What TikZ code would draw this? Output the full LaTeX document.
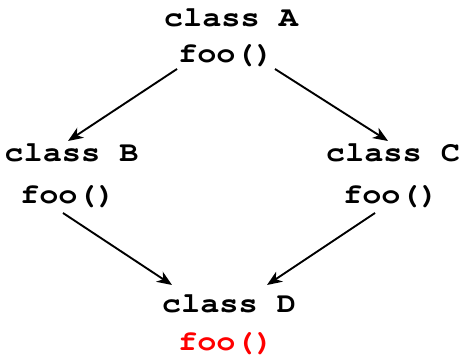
\documentclass[tikz,border=0pt]{standalone}
\usepackage[T1]{fontenc}
\usetikzlibrary{arrows.meta}
\definecolor{fooRed}{RGB}{255,0,0}
\tikzset{
  txt/.style={anchor=base, inner sep=0pt, xscale=1.12, font=\fontfamily{pcr}\fontseries{b}\fontsize{28.5}{30}\selectfont},
  conn/.style={line width=1.9pt, -{Stealth[length=15pt,width=12pt,inset=4.5pt]}}
}
\begin{document}
\begin{tikzpicture}[x=1pt,y=1pt]
\useasboundingbox (0,0) rectangle (460,358);
\node[txt] (Aclass) at (231,331) {class A};
\node[txt] (Afoo) at (226,295) {foo()};
\node[txt] (Bclass) at (71.5,196) {class B};
\node[txt] (Bfoo) at (68,154) {foo()};
\node[txt] (Cclass) at (393,196) {class C};
\node[txt] (Cfoo) at (391,154) {foo()};
\node[txt] (Dclass) at (229,45) {class D};
\node[txt, text=fooRed] (Dfoo) at (226,7) {foo()};
\draw[conn] ([shift={(-49pt,-6pt)}]Afoo.base) -- ([shift={(-3.5pt,21pt)}]Bclass.base);
\draw[conn] ([shift={(49pt,-6pt)}]Afoo.base) -- ([shift={(-5pt,21pt)}]Cclass.base);
\draw[conn] ([shift={(-5pt,-9pt)}]Bfoo.base) -- ([shift={(-57pt,28pt)}]Dclass.base);
\draw[conn] ([shift={(-16pt,-9pt)}]Cfoo.base) -- ([shift={(38pt,28pt)}]Dclass.base);
\end{tikzpicture}
\end{document}
